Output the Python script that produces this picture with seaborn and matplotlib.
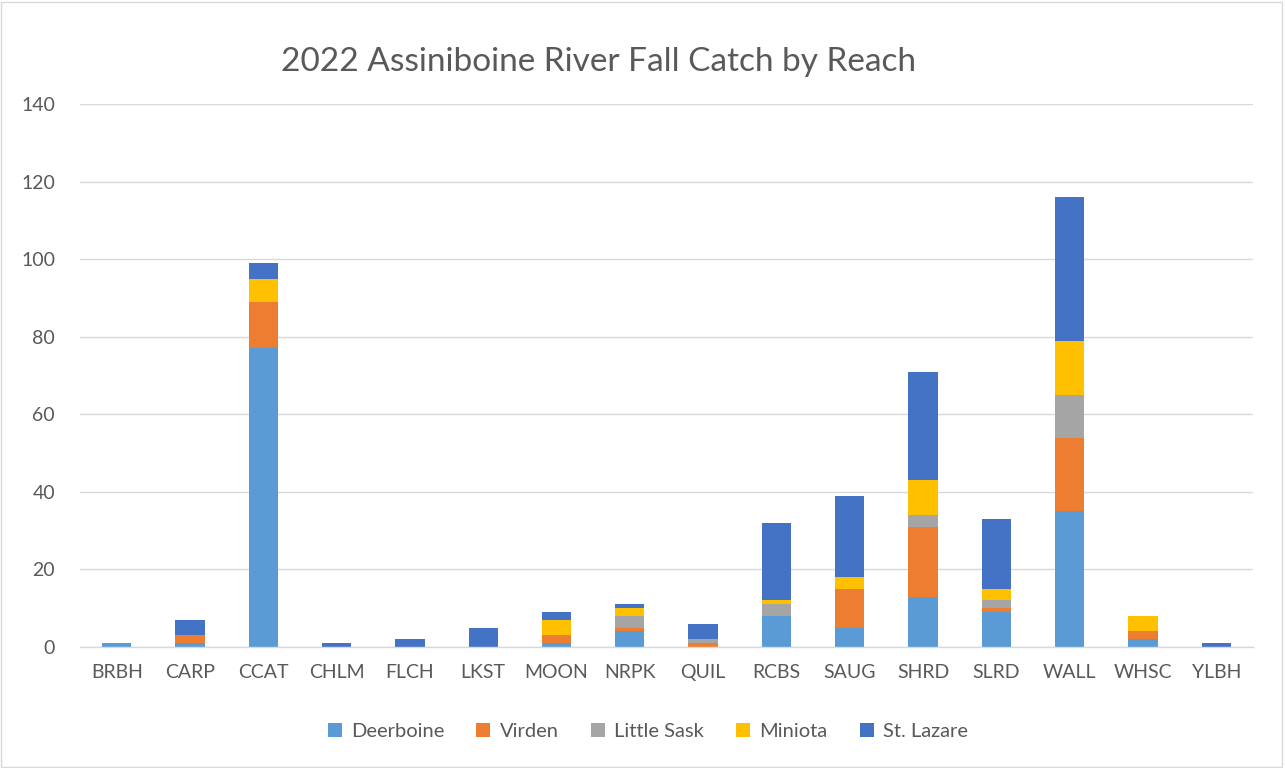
import pandas as pd
import matplotlib.pyplot as plt
import seaborn as sns
from matplotlib.patches import Rectangle

# Reach codes and catch counts per sampling location
reaches = ["BRBH", "CARP", "CCAT", "CHLM", "FLCH", "LKST", "MOON", "NRPK",
           "QUIL", "RCBS", "SAUG", "SHRD", "SLRD", "WALL", "WHSC", "YLBH"]
deerboine = [1, 1, 77, 0, 0, 0, 1, 4, 0, 8, 5, 13, 9, 35, 2, 0]
virden = [0, 2, 12, 0, 0, 0, 2, 1, 1, 0, 10, 18, 1, 19, 2, 0]
little_sask = [0, 0, 0, 0, 0, 0, 0, 3, 1, 3, 0, 3, 2, 11, 0, 0]
miniota = [0, 0, 6, 0, 0, 0, 4, 2, 0, 1, 3, 9, 3, 14, 4, 0]
st_lazare = [0, 4, 4, 1, 2, 5, 2, 1, 4, 20, 21, 28, 18, 37, 0, 1]

series = ["Deerboine", "Virden", "Little Sask", "Miniota", "St. Lazare"]
colors = ["#5B9BD5", "#ED7D31", "#A5A5A5", "#FFC000", "#4472C4"]
yticks = [0, 20, 40, 60, 80, 100, 120, 140]

sns.set_style("white")
plt.rcParams["font.family"] = ["Lato", "DejaVu Sans"]

fig = plt.figure(figsize=(12.85, 7.68), dpi=100)
ax = fig.add_axes([0.0623, 0.1576, 0.9127, 0.707])

x_pos = range(len(reaches))
bottom = [0] * len(reaches)
for name, vals, col in zip(series, [deerboine, virden, little_sask, miniota, st_lazare], colors):
    df = pd.DataFrame({"x": list(x_pos), "y": vals})
    sns.barplot(data=df, x="x", y="y", color=col, width=0.4, ax=ax,
                bottom=bottom, label=name, linewidth=0, native_scale=True,
                saturation=1)
    bottom = [b + v for b, v in zip(bottom, vals)]

ax.set_xlim(-0.5, len(reaches) - 0.5)
ax.set_ylim(0, 140)
ax.set_yticks(yticks)
ax.set_yticklabels([str(t) for t in yticks])
ax.set_xticks(list(x_pos))
ax.set_xticklabels(reaches)
ax.set_xlabel("")
ax.set_ylabel("")
ax.yaxis.grid(True, color="#d9d9d9", linewidth=1)
ax.set_axisbelow(True)
for s in ["top", "right", "left"]:
    ax.spines[s].set_visible(False)
ax.spines["bottom"].set_color("#d9d9d9")
ax.spines["bottom"].set_linewidth(1)
ax.tick_params(axis="both", length=0, labelsize=14, labelcolor="#595959")
ax.tick_params(axis="x", pad=12)
ax.tick_params(axis="y", pad=18)

fig.text(0.466, 0.919, "2022 Assiniboine River Fall Catch by Reach",
         ha="center", va="center", fontsize=24, color="#595959")

handles, labels = ax.get_legend_handles_labels()
if ax.legend_:
    ax.legend_.remove()
fig.legend(handles, labels, loc="center", bbox_to_anchor=(0.504, 0.048),
           ncol=5, frameon=False, fontsize=14.5, labelcolor="#595959",
           handlelength=0.7, handleheight=0.7, columnspacing=1.6,
           handletextpad=0.45)

fig.patches.append(Rectangle((0.001, 0.001), 0.997, 0.997, transform=fig.transFigure,
                             fill=False, edgecolor="#d9d9d9", linewidth=1))

fig.savefig("out.png", dpi=100)
